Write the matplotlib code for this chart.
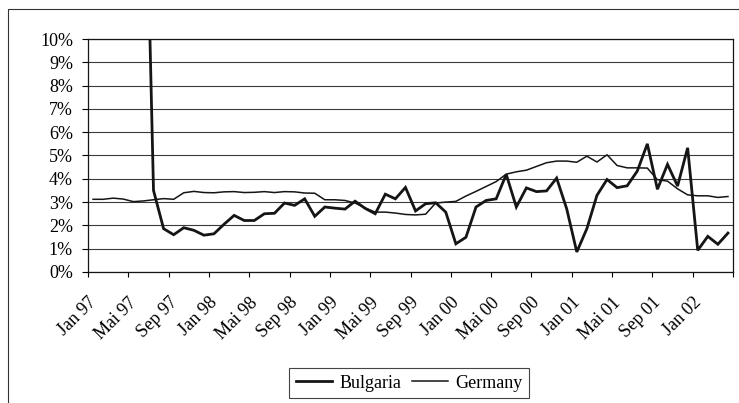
import matplotlib
matplotlib.use("Agg")
import matplotlib.pyplot as plt
from matplotlib.patches import Rectangle
from matplotlib.ticker import FuncFormatter
from matplotlib.transforms import ScaledTranslation

plt.rcParams['font.family'] = ['Liberation Serif', 'DejaVu Serif']

# Monatswerte Jan 97 - Apr 02 (in %)
tick_labels = ['Jan 97', 'Mai 97', 'Sep 97', 'Jan 98', 'Mai 98', 'Sep 98',
               'Jan 99', 'Mai 99', 'Sep 99', 'Jan 00', 'Mai 00', 'Sep 00',
               'Jan 01', 'Mai 01', 'Sep 01', 'Jan 02']

bulgaria = [45.0, 60.0, 30.0, 15.0, 12.0, 22.0,
            3.50, 1.86, 1.60, 1.90, 1.79, 1.58,
            1.64, 2.05, 2.43, 2.21, 2.21, 2.50,
            2.52, 2.96, 2.86, 3.14, 2.39, 2.79,
            2.74, 2.70, 3.04, 2.73, 2.50, 3.34,
            3.14, 3.63, 2.62, 2.93, 2.97, 2.57,
            1.21, 1.49, 2.79, 3.07, 3.14, 4.19,
            2.79, 3.61, 3.45, 3.48, 4.03, 2.71,
            0.86, 1.86, 3.29, 3.97, 3.62, 3.70,
            4.33, 5.50, 3.55, 4.62, 3.69, 5.33,
            0.93, 1.53, 1.19, 1.67]

germany = [3.12, 3.12, 3.17, 3.13, 3.02, 3.05,
           3.10, 3.15, 3.12, 3.40, 3.46, 3.41,
           3.40, 3.44, 3.45, 3.41, 3.42, 3.45,
           3.41, 3.45, 3.44, 3.39, 3.38, 3.10,
           3.10, 3.07, 2.96, 2.75, 2.57, 2.57,
           2.53, 2.47, 2.45, 2.48, 2.96, 3.00,
           3.03, 3.26, 3.46, 3.67, 3.88, 4.20,
           4.30, 4.37, 4.53, 4.69, 4.76, 4.76,
           4.71, 4.97, 4.72, 5.03, 4.57, 4.47,
           4.47, 4.46, 3.96, 3.90, 3.57, 3.31,
           3.27, 3.27, 3.20, 3.24]

x = list(range(len(germany)))

fig = plt.figure(figsize=(7.39, 4.03), dpi=100)
ax = fig.add_axes([88 / 739, 1 - 272 / 403, 645 / 739, 233 / 403])

# Rahmen um das ganze Diagramm
fig.patches.append(Rectangle((8 / 739, -0.2), 1.2, 1.2 - 9 / 403,
                             transform=fig.transFigure, fill=False,
                             edgecolor='#333333', linewidth=0.8))

ax.plot(x, bulgaria, color='#151515', linewidth=2.0, label='Bulgaria',
        solid_joinstyle='miter')
ax.plot(x, germany, color='#151515', linewidth=1.1, label='Germany')

ax.set_xlim(-0.5, len(x) - 0.5)
ax.set_ylim(0, 10)
ax.set_yticks(range(0, 11))
ax.yaxis.set_major_formatter(FuncFormatter(lambda v, p: f'{v:.0f}%'))
ax.grid(axis='y', color='#3a3a3a', linewidth=0.8)
ax.set_axisbelow(True)

ticks = [i * 4 - 0.5 for i in range(len(tick_labels))] + [len(x) - 0.5]
ax.set_xticks(ticks)
ax.set_xticklabels(tick_labels + [''], rotation=45, ha='right',
                   rotation_mode='anchor')
# Beschriftungen etwas nach links ruecken
shift = ScaledTranslation(-4 / 100, 0, fig.dpi_scale_trans)
for lbl in ax.get_xticklabels():
    lbl.set_transform(lbl.get_transform() + shift)

ax.tick_params(axis='y', labelsize=13, length=4.3, width=0.8, pad=6.5)
ax.tick_params(axis='x', labelsize=13, length=3.5, width=0.8, pad=12.5)
for s in ax.spines.values():
    s.set_color('#151515')
    s.set_linewidth(0.9)

leg = fig.legend(loc='center', bbox_to_anchor=(409 / 739, 1 - 383 / 403),
                 ncol=2, fontsize=13, frameon=True, fancybox=False,
                 edgecolor='#151515', handlelength=2.0, handletextpad=0.4,
                 columnspacing=0.6, borderpad=0.35)
leg.get_frame().set_linewidth(0.8)

fig.savefig('out.png', dpi=100)
